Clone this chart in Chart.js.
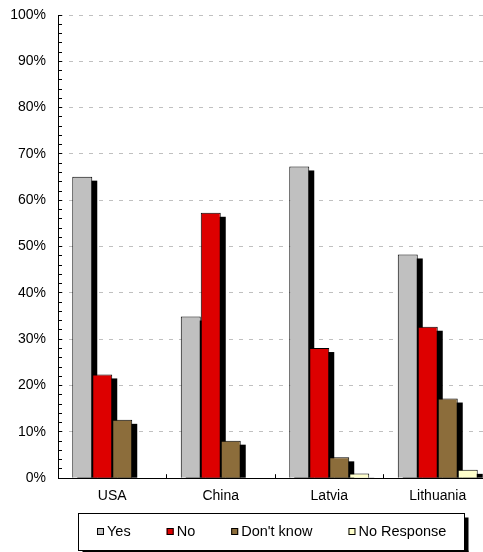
<!DOCTYPE html>
<html>
<head>
<meta charset="utf-8">
<script src="https://cdn.jsdelivr.net/npm/chart.js@4"></script>
<style>
  html, body { margin: 0; padding: 0; background: #fff; overflow: hidden; }
  #wrap { position: relative; width: 500px; height: 552px; }
</style>
</head>
<body>
<div id="wrap"><canvas id="myChart"></canvas></div>
<script>
// values (percent)
const categories = ['USA', 'China', 'Latvia', 'Lithuania'];
const yesValues = [65.1, 34.9, 67.3, 48.3];
const noValues = [22.4, 57.3, 28.1, 32.7];
const dontKnowValues = [12.6, 8.1, 4.5, 17.2];
const noResponseValues = [0, 0, 1.0, 1.8];

const fontFamily = "'Liberation Sans', Arial, sans-serif";
Chart.defaults.font.family = fontFamily;
Chart.defaults.font.size = 14;
Chart.defaults.color = '#000';

function align(px) {
    return Math.round(px - 0.5) + 0.5;
}

// black drop shadow behind each bar
const barShadow = {
    id: 'barShadow',
    beforeDatasetsDraw(chart) {
        const { ctx, chartArea: area } = chart;
        ctx.save();
        ctx.beginPath();
        ctx.rect(area.left, area.top, area.right - area.left, area.bottom - area.top);
        ctx.clip();
        ctx.fillStyle = '#000';
        chart.data.datasets.forEach((ds, i) => {
            chart.getDatasetMeta(i).data.forEach(bar => {
                const p = bar.getProps(['x', 'y', 'width', 'base'], true);
                const h = p.base - p.y - 4;
                if (h > 0) {
                    ctx.fillRect(p.x - p.width / 2 + 5, p.y + 4, p.width, h);
                }
            });
        });
        ctx.restore();
    }
};

// small tick marks pointing into the plot
const inwardTicks = {
    id: 'inwardTicks',
    afterDraw(chart) {
        const { ctx, chartArea: area, scales: { x, y } } = chart;
        ctx.save();
        ctx.strokeStyle = '#000';
        ctx.lineWidth = 1;
        ctx.beginPath();
        y.ticks.forEach(t => {
            const py = align(y.getPixelForValue(t.value));
            ctx.moveTo(area.left, py);
            ctx.lineTo(area.left + 4, py);
        });
        for (let i = 0; i < categories.length - 1; i++) {
            const px = align((x.getPixelForValue(i) + x.getPixelForValue(i + 1)) / 2);
            ctx.moveTo(px, area.bottom);
            ctx.lineTo(px, area.bottom - 4);
        }
        ctx.stroke();
        ctx.restore();
    }
};

// framed legend with shadow, under the axis labels
const framedLegend = {
    id: 'framedLegend',
    afterDraw(chart) {
        const { ctx, chartArea: area } = chart;
        const items = chart.data.datasets;
        const sq = 7, textGap = 3, itemGap = 36;
        ctx.save();
        ctx.font = '14.5px ' + fontFamily;
        const widths = items.map(ds => sq + textGap + ctx.measureText(ds.label).width);
        const total = widths.reduce((a, b) => a + b, 0) + itemGap * (items.length - 1);
        const mid = Math.round(area.bottom + 53);
        const startX = Math.round((area.left + area.right) / 2 - 3 - total / 2);

        const left = startX - 19 + 0.5;
        const right = Math.round(startX + total + 18) + 0.5;
        const top = mid - 18 + 0.5;
        const bottom = mid + 19 + 0.5;
        ctx.fillStyle = '#000';
        ctx.fillRect(right, top + 4, 4, bottom - top);
        ctx.fillRect(left + 4, bottom, right - left, 4);
        ctx.fillStyle = '#fff';
        ctx.fillRect(left, top, right - left, bottom - top);
        ctx.strokeStyle = '#000';
        ctx.lineWidth = 1;
        ctx.strokeRect(left, top, right - left, bottom - top);

        let x = startX;
        ctx.textBaseline = 'middle';
        ctx.textAlign = 'left';
        items.forEach((ds, i) => {
            ctx.fillStyle = ds.backgroundColor;
            ctx.fillRect(x, mid - 3, sq, sq);
            ctx.strokeStyle = '#000';
            ctx.strokeRect(x + 0.5, mid - 2.5, sq - 1, sq - 1);
            ctx.fillStyle = '#000';
            ctx.fillText(ds.label, x + sq + textGap, mid + 0.5);
            x += widths[i] + itemGap;
        });
        ctx.restore();
    }
};

const ctx = document.getElementById('myChart');
const myChart = new Chart(ctx, {
    type: 'bar',
    data: {
        labels: categories,
        datasets: [
            {
                label: 'Yes',
                data: yesValues,
                backgroundColor: '#c0c0c0',
                borderColor: '#000',
                borderWidth: 1
            },
            {
                label: 'No',
                data: noValues,
                backgroundColor: '#dd0000',
                borderColor: '#000',
                borderWidth: 1
            },
            {
                label: "Don't know",
                data: dontKnowValues,
                backgroundColor: '#8c6d3b',
                borderColor: '#000',
                borderWidth: 1
            },
            {
                label: 'No Response',
                data: noResponseValues,
                backgroundColor: '#ffffcc',
                borderColor: '#000',
                borderWidth: 1
            }
        ]
    },
    options: {
        responsive: true,
        maintainAspectRatio: false,
        animation: false,
        layout: { padding: { top: 15, left: 10, right: 8, bottom: 47 } },
        datasets: {
            bar: { categoryPercentage: 0.737, barPercentage: 1 }
        },
        plugins: {
            tooltip: { enabled: false },
            legend: { display: false }
        },
        scales: {
            x: {
                offset: true,
                grid: {
                    drawOnChartArea: false,
                    drawTicks: true,
                    tickLength: 10,
                    tickColor: 'rgba(0,0,0,0)'
                },
                border: { color: '#000', width: 1 },
                ticks: { color: '#000', padding: 0, maxRotation: 0 }
            },
            y: {
                min: 0,
                max: 100,
                grid: {
                    drawTicks: true,
                    tickLength: 12,
                    tickColor: 'rgba(0,0,0,0)',
                    lineWidth: 1,
                    color: c => (c.tick && c.tick.value % 10 === 0 && c.tick.value !== 0) ? '#c0c0c0' : 'rgba(0,0,0,0)'
                },
                border: { color: '#000', width: 1, dash: [4, 6] },
                ticks: {
                    stepSize: 2,
                    autoSkip: false,
                    padding: 0,
                    color: '#000',
                    callback: v => (v % 10 === 0 ? v + '%' : '')
                },
                afterFit(scale) { scale.width = 48; }
            }
        }
    },
    plugins: [barShadow, inwardTicks, framedLegend]
});
</script>
</body>
</html>
